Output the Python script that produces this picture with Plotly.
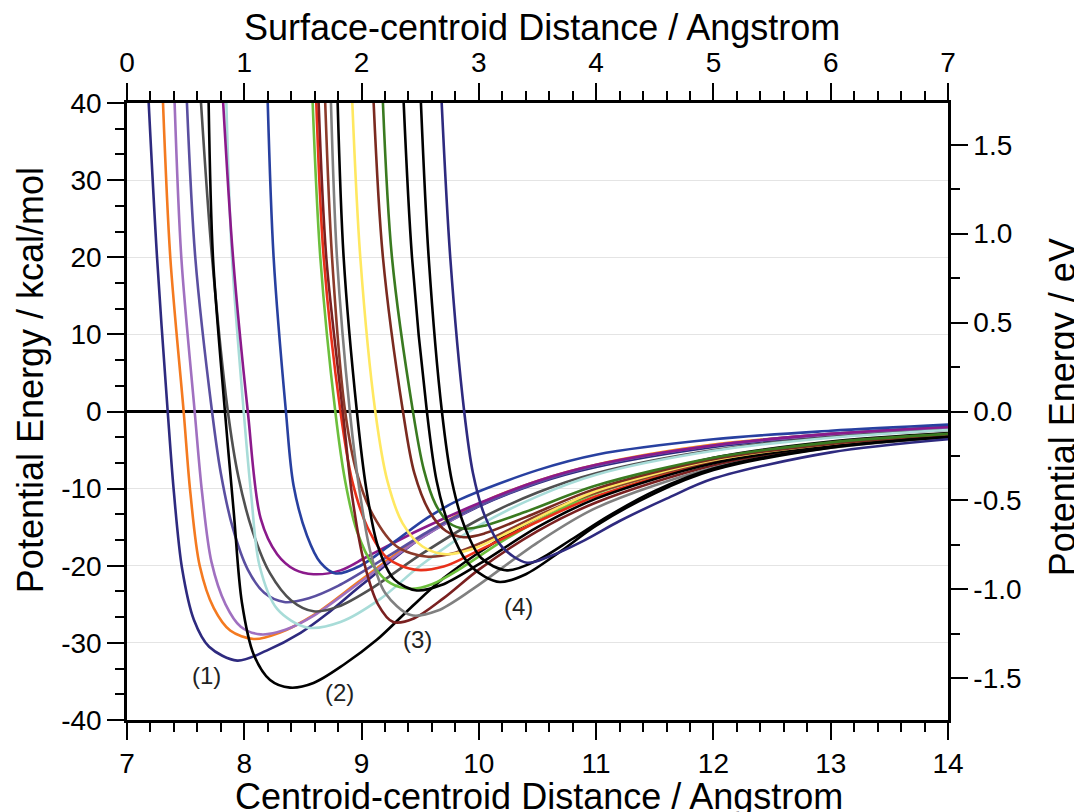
import plotly.graph_objects as go

KCAL_PER_EV = 23.0605

# ---- curve data: centroid-centroid distance (Angstrom) and energy (kcal/mol) ----
x_c01 = [7.185, 7.256, 7.347, 7.40, 7.47, 7.57, 7.70, 7.94, 8.19, 8.48, 8.70, 9.0, 9.5, 10.0, 10.5, 11.0, 12.0, 13.0, 14.0]
e_c01 = [40, 20, 0, -10.5, -20.4, -27.0, -30.5, -32.3, -31.0, -28.7, -26.3, -22.5, -16.5, -12.3, -9.3, -7.2, -4.6, -3.1, -2.2]

x_c02 = [7.307, 7.369, 7.483, 7.54, 7.62, 7.74, 7.88, 8.08, 8.30, 8.60, 9.0, 9.5, 10.0, 10.5, 11.0, 12.0, 13.0, 14.0]
e_c02 = [40, 20, 0, -10.5, -20.0, -25.5, -28.4, -29.5, -28.7, -26.3, -21.8, -16.3, -12.0, -9.0, -6.9, -4.3, -2.9, -2.0]

x_c03 = [7.406, 7.463, 7.577, 7.64, 7.72, 7.84, 7.97, 8.14, 8.35, 8.60, 9.0, 9.5, 10.0, 10.5, 11.0, 12.0, 13.0, 14.0]
e_c03 = [40, 20, 0, -10.5, -19.5, -25.0, -27.9, -28.9, -28.3, -26.4, -22.0, -16.5, -12.2, -9.1, -7.0, -4.4, -3.0, -2.1]

x_c04 = [7.511, 7.582, 7.725, 7.80, 7.90, 8.03, 8.17, 8.34, 8.55, 8.80, 9.2, 9.6, 10.0, 10.5, 11.0, 12.0, 13.0, 14.0]
e_c04 = [40, 20, 0, -8.0, -15.0, -20.5, -23.5, -24.7, -24.2, -22.6, -19.0, -15.3, -12.2, -9.2, -7.0, -4.4, -2.9, -2.0]

x_c05 = [7.631, 7.725, 7.86, 7.95, 8.07, 8.22, 8.40, 8.59, 8.80, 9.1, 9.5, 10.0, 10.5, 11.0, 12.0, 13.0, 14.0]
e_c05 = [40, 20, 0, -8.5, -15.5, -21.0, -24.5, -25.9, -25.3, -22.8, -18.6, -14.0, -10.5, -8.0, -5.0, -3.3, -2.4]

x_c06 = [7.696, 7.733, 7.835, 7.91, 7.98, 8.08, 8.22, 8.39, 8.59, 8.85, 9.13, 9.415, 9.70, 10.07, 10.5, 11.0, 12.0, 13.0, 14.0]
e_c06 = [40, 20, 0, -13.0, -24.8, -31.5, -34.8, -35.8, -35.2, -32.8, -29.6, -25.5, -21.6, -17.6, -13.8, -10.4, -6.0, -3.9, -2.8]

x_c07 = [7.847, 7.895, 7.995, 8.06, 8.13, 8.28, 8.535, 8.82, 9.16, 9.5, 10.0, 10.5, 11.0, 12.0, 13.0, 14.0]
e_c07 = [40, 20, 0, -11.0, -20.0, -25.6, -28.0, -27.3, -24.3, -20.0, -14.8, -11.0, -8.2, -5.1, -3.4, -2.4]

x_c08 = [7.82, 7.904, 8.03, 8.14, 8.28, 8.43, 8.59, 8.82, 9.05, 9.5, 10.0, 10.5, 11.0, 12.0, 13.0, 14.0]
e_c08 = [40, 20, 0, -13.9, -18.5, -20.5, -21.1, -20.6, -18.8, -15.3, -11.9, -9.0, -6.9, -4.4, -2.9, -2.0]

x_c09 = [8.20, 8.25, 8.355, 8.42, 8.535, 8.65, 8.78, 8.99, 9.27, 9.56, 9.84, 10.5, 11.0, 12.0, 13.0, 14.0]
e_c09 = [40, 20, 0, -9.6, -16.1, -19.6, -21.0, -20.0, -17.0, -13.8, -11.4, -7.6, -5.6, -3.6, -2.5, -1.7]

x_c10 = [8.583, 8.648, 8.776, 8.86, 8.96, 9.10, 9.25, 9.42, 9.60, 9.85, 10.2, 10.6, 11.0, 12.0, 13.0, 14.0]
e_c10 = [40, 20, 0, -9.0, -15.5, -20.0, -22.3, -23.0, -22.4, -20.3, -16.8, -13.4, -10.6, -6.4, -4.2, -3.0]

x_c11 = [8.614, 8.677, 8.82, 8.92, 9.05, 9.22, 9.45, 9.70, 10.0, 10.5, 11.0, 12.0, 13.0, 14.0]
e_c11 = [40, 20, 0, -9.0, -15.0, -19.0, -20.5, -20.1, -18.0, -14.3, -11.0, -6.6, -4.3, -3.1]

x_c12 = [8.634, 8.699, 8.84, 8.92, 9.02, 9.14, 9.27, 9.45, 9.70, 10.0, 10.5, 11.0, 12.0, 13.0, 14.0]
e_c12 = [40, 20, 0, -11.0, -19.5, -25.0, -27.3, -26.8, -24.2, -20.5, -15.5, -11.8, -7.0, -4.6, -3.3]

x_c13 = [8.69, 8.748, 8.86, 8.96, 9.10, 9.30, 9.55, 9.80, 10.1, 10.5, 11.0, 12.0, 13.0, 14.0]
e_c13 = [40, 20, 0, -8.0, -13.5, -17.5, -18.8, -18.3, -16.5, -13.5, -10.5, -6.4, -4.2, -3.1]

x_c14 = [8.739, 8.79, 8.90, 8.98, 9.08, 9.20, 9.42, 9.65, 9.95, 10.5, 11.0, 12.0, 13.0, 14.0]
e_c14 = [40, 20, 0, -10.0, -18.5, -23.5, -26.4, -25.8, -23.0, -17.0, -12.5, -7.3, -4.7, -3.4]

x_c15 = [8.796, 8.847, 8.96, 9.04, 9.14, 9.28, 9.47, 9.68, 10.0, 10.5, 11.0, 12.0, 13.0, 14.0]
e_c15 = [40, 20, 0, -10.0, -17.5, -21.8, -23.2, -22.5, -19.8, -15.0, -11.3, -6.7, -4.4, -3.2]

x_c16 = [8.921, 8.989, 9.117, 9.22, 9.35, 9.52, 9.72, 9.95, 10.3, 10.7, 11.0, 12.0, 13.0, 14.0]
e_c16 = [40, 20, 0, -9.0, -14.5, -17.5, -18.5, -17.8, -15.3, -12.3, -10.3, -6.3, -4.2, -3.0]

x_c17 = [9.103, 9.182, 9.353, 9.45, 9.58, 9.72, 9.87, 10.05, 10.4, 11.0, 12.0, 13.0, 14.0]
e_c17 = [40, 20, 0, -8.0, -13.0, -15.5, -16.3, -15.8, -13.7, -10.0, -6.2, -4.2, -3.1]

x_c18 = [9.182, 9.259, 9.438, 9.53, 9.63, 9.75, 9.88, 10.05, 10.4, 11.0, 12.0, 13.0, 14.0]
e_c18 = [40, 20, 0, -7.5, -12.0, -14.5, -15.2, -14.8, -13.0, -9.6, -6.0, -4.0, -2.9]

x_c19 = [9.359, 9.43, 9.557, 9.64, 9.75, 9.90, 10.05, 10.18, 10.4, 10.7, 11.0, 11.5, 12.0, 13.0, 14.0]
e_c19 = [40, 20, 0, -9.0, -15.0, -19.5, -21.4, -22.1, -21.1, -18.1, -14.8, -10.6, -7.6, -4.7, -3.3]

x_c20 = [9.506, 9.572, 9.685, 9.77, 9.88, 10.02, 10.24, 10.5, 10.8, 11.1, 11.5, 12.0, 13.0, 14.0]
e_c20 = [40, 20, 0, -9.0, -15.0, -19.0, -20.6, -19.3, -16.5, -13.6, -10.3, -7.4, -4.6, -3.3]

x_c21 = [9.683, 9.756, 9.875, 9.95, 10.05, 10.2, 10.41, 10.6, 10.9, 11.2, 11.6, 12.0, 13.0, 14.0]
e_c21 = [40, 20, 0, -8.0, -13.5, -17.6, -19.6, -18.8, -16.7, -14.2, -11.3, -8.7, -5.3, -3.6]

curves_x = [x_c01, x_c02, x_c03, x_c04, x_c05, x_c06, x_c07, x_c08, x_c09, x_c10, x_c11,
            x_c12, x_c13, x_c14, x_c15, x_c16, x_c17, x_c18, x_c19, x_c20, x_c21]
curves_e = [e_c01, e_c02, e_c03, e_c04, e_c05, e_c06, e_c07, e_c08, e_c09, e_c10, e_c11,
            e_c12, e_c13, e_c14, e_c15, e_c16, e_c17, e_c18, e_c19, e_c20, e_c21]

colors = ["#2e2a7f", "#f47a20", "#a070c0", "#5a4fa0", "#505050", "#000000", "#a8dcd8",
          "#8b1a8b", "#2840a0", "#6cbf3c", "#e8301a", "#7a2020", "#8b3a2a", "#808080",
          "#000000", "#ffe860", "#7a2a20", "#3a7a20", "#000000", "#000000", "#2e2a7f"]

# tick labels
x_bottom_ticks = [7, 8, 9, 10, 11, 12, 13, 14]
x_top_ticks = [0, 1, 2, 3, 4, 5, 6, 7]
y_left_ticks = [-40, -30, -20, -10, 0, 10, 20, 30, 40]
y_left_text = ["-40", "-30", "-20", "-10", "0", "10", "20", "30", "40"]
y_right_ticks = [-1.5, -1.0, -0.5, 0.0, 0.5, 1.0, 1.5]
y_right_text = ["-1.5", "-1.0", "-0.5", "0.0", "0.5", "1.0", "1.5"]

labels = ["(1)", "(2)", "(3)", "(4)"]
label_x = [7.68, 8.81, 9.48, 10.34]
label_e = [-34.2, -36.4, -29.6, -25.3]

FONT = "Liberation Sans, Arial, sans-serif"

fig = go.Figure()
for xs, es, col in zip(curves_x, curves_e, colors):
    fig.add_trace(go.Scatter(x=xs, y=es, mode="lines",
                             line=dict(color=col, width=2.6, shape="spline", smoothing=0.9),
                             showlegend=False, hoverinfo="skip"))

# empty trace so that the secondary (top / right) axes are drawn
fig.add_trace(go.Scatter(x=[], y=[], xaxis="x2", yaxis="y2", mode="lines",
                         showlegend=False, hoverinfo="skip"))

for t, lx, le in zip(labels, label_x, label_e):
    fig.add_annotation(x=lx, y=le, text=t, showarrow=False,
                       font=dict(family=FONT, size=24, color="#222"))

tick_common = dict(ticks="outside", ticklen=17, tickwidth=2, tickcolor="black",
                   showline=True, linewidth=2.5, linecolor="black",
                   tickfont=dict(family=FONT, size=28, color="black"))

# page body has an 8px margin, so the figure is 8px smaller and margins shifted
fig.update_layout(
    width=1074, height=804,
    margin=dict(l=119, r=134, t=95, b=92, autoexpand=False),
    plot_bgcolor="white", paper_bgcolor="white",
    xaxis=dict(range=[7, 14], tickvals=x_bottom_ticks, showgrid=False, zeroline=False,
               minor=dict(ticks="outside", ticklen=9, tickwidth=2, tickcolor="black",
                          dtick=0.2, tick0=7, showgrid=False),
               **tick_common),
    xaxis2=dict(range=[0, 7], tickvals=x_top_ticks, overlaying="x", side="top", anchor="y",
                showgrid=False, zeroline=False,
                minor=dict(ticks="outside", ticklen=9, tickwidth=2, tickcolor="black",
                           dtick=0.2, tick0=0, showgrid=False),
                **tick_common),
    yaxis=dict(range=[-40, 40], tickvals=y_left_ticks, ticktext=y_left_text,
               showgrid=True, gridcolor="#e4e4e4", gridwidth=1.2,
               zeroline=True, zerolinecolor="black", zerolinewidth=2.5,
               minor=dict(ticks="outside", ticklen=9, tickwidth=2, tickcolor="black",
                          dtick=10 / 3, tick0=-40, showgrid=False),
               **tick_common),
    yaxis2=dict(range=[-40 / KCAL_PER_EV, 40 / KCAL_PER_EV], tickvals=y_right_ticks,
                ticktext=y_right_text, overlaying="y", side="right", anchor="x",
                showgrid=False, zeroline=False,
                minor=dict(ticks="outside", ticklen=9, tickwidth=2, tickcolor="black",
                           dtick=0.25, tick0=0, showgrid=False),
                **tick_common),
)

# axis titles
title_font = dict(family=FONT, size=36, color="black")
fig.add_annotation(text="Surface-centroid Distance / Angstrom", xref="paper", yref="paper",
                   x=0.505, y=1.122, showarrow=False, font=title_font, yanchor="middle")
fig.add_annotation(text="Centroid-centroid Distance / Angstrom", xref="paper", yref="paper",
                   x=0.502, y=-0.124, showarrow=False, font=title_font, yanchor="middle")
fig.add_annotation(text="Potential Energy / kcal/mol", xref="paper", yref="paper",
                   x=-0.118, y=0.551, showarrow=False, font=title_font, textangle=-90,
                   xanchor="center", yanchor="middle")
fig.add_annotation(text="Potential Energy / eV", xref="paper", yref="paper",
                   x=1.139, y=0.507, showarrow=False, font=title_font, textangle=-90,
                   xanchor="center", yanchor="middle")

fig.write_html("out.html")
